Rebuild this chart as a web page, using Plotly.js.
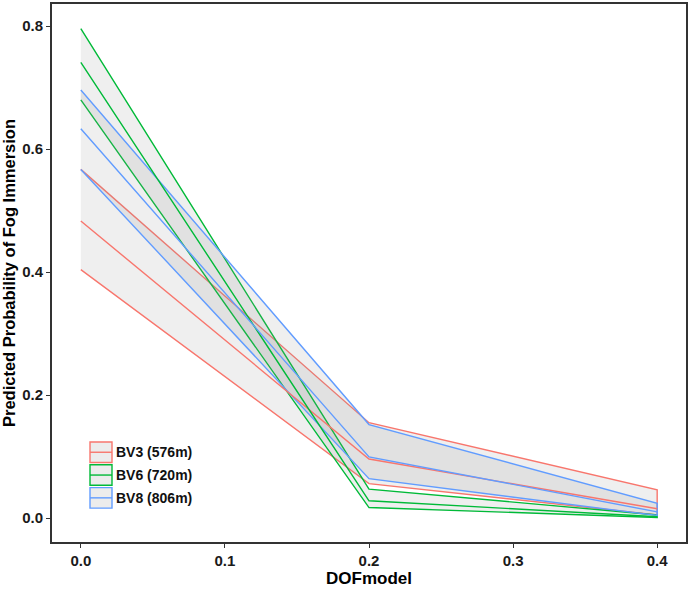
<!DOCTYPE html>
<html>
<head>
<meta charset="utf-8">
<script src="https://cdn.plot.ly/plotly-3.0.1.min.js"></script>
<style>html,body{margin:0;padding:0;background:#fff;}#chart{width:691px;height:590px;}</style>
</head>
<body>
<div id="chart"></div>
<script>
// Data
const dof = [0.0, 0.2, 0.4];
const seriesNames = ["BV3 (576m)", "BV6 (720m)", "BV8 (806m)"];
const colors = ["#F8766D", "#00BA38", "#619CFF"];

const bv3Mean  = [0.483, 0.096, 0.015];
const bv3Lower = [0.404, 0.056, 0.005];
const bv3Upper = [0.567, 0.155, 0.046];

const bv6Mean  = [0.741, 0.028, 0.002];
const bv6Lower = [0.680, 0.017, 0.001];
const bv6Upper = [0.796, 0.047, 0.005];

const bv8Mean  = [0.633, 0.0995, 0.010];
const bv8Lower = [0.567, 0.064, 0.004];
const bv8Upper = [0.696, 0.152, 0.024];

const xTicks = [0, 0.1, 0.2, 0.3, 0.4];
const xTickText = ["0.0", "0.1", "0.2", "0.3", "0.4"];
const yTicks = [0, 0.2, 0.4, 0.6, 0.8];
const yTickText = ["0.0", "0.2", "0.4", "0.6", "0.8"];

const series = [
  {mean: bv3Mean, lower: bv3Lower, upper: bv3Upper},
  {mean: bv6Mean, lower: bv6Lower, upper: bv6Upper},
  {mean: bv8Mean, lower: bv8Lower, upper: bv8Upper}
];

const ribbonFill = 'rgba(150,150,150,0.15)';
const traces = [];
series.forEach((s, i) => {
  traces.push({
    x: dof.concat(dof.slice().reverse()),
    y: s.upper.concat(s.lower.slice().reverse()),
    type: 'scatter', mode: 'lines', fill: 'toself',
    fillcolor: ribbonFill,
    line: {color: colors[i], width: 1.4},
    name: seriesNames[i], hoverinfo: 'skip', showlegend: false
  });
});
series.forEach((s, i) => {
  traces.push({
    x: dof, y: s.mean, type: 'scatter', mode: 'lines',
    line: {color: colors[i], width: 1.4},
    showlegend: false, name: seriesNames[i]
  });
});

// Plot-area geometry (pixels) used to place the hand-built legend
const W = 691, H = 590, mL = 52, mR = 5, mT = 4, mB = 48;
const pw = W - mL - mR, ph = H - mT - mB;
const px = v => (v - mL) / pw;
const py = v => (H - mB - v) / ph;

const fontFam = 'Liberation Sans, Arial, sans-serif';
const shapes = [];
const annotations = [];
const keyX0 = 90, keyX1 = 112, keyTop = 442, keyH = 20.5, keyStep = 22.8;
seriesNames.forEach((nm, i) => {
  const y0 = keyTop + i * keyStep, y1 = y0 + keyH, ym = (y0 + y1) / 2;
  shapes.push({type: 'rect', xref: 'paper', yref: 'paper',
    x0: px(keyX0), x1: px(keyX1), y0: py(y1), y1: py(y0),
    fillcolor: 'rgb(236,236,236)', line: {color: colors[i], width: 1.4}});
  shapes.push({type: 'line', xref: 'paper', yref: 'paper',
    x0: px(keyX0), x1: px(keyX1), y0: py(ym), y1: py(ym),
    line: {color: colors[i], width: 1.4}});
  annotations.push({xref: 'paper', yref: 'paper', x: px(keyX1 + 1.5), y: py(ym),
    xanchor: 'left', yanchor: 'middle', showarrow: false, text: nm,
    font: {family: fontFam, size: 14, color: '#111', weight: 'bold'}});
});

const layout = {
  width: W, height: H,
  margin: {l: mL, r: mR, t: mT, b: mB},
  paper_bgcolor: '#fff', plot_bgcolor: '#fff',
  showlegend: false,
  shapes: shapes, annotations: annotations,
  xaxis: {
    range: [-0.02, 0.42], tickvals: xTicks, ticktext: xTickText,
    showgrid: false, zeroline: false,
    showline: true, mirror: true, linecolor: '#333', linewidth: 2,
    ticks: 'outside', ticklen: 4, tickcolor: '#333', tickwidth: 1,
    tickfont: {family: fontFam, size: 15, color: '#1a1a1a', weight: 'bold'},
    title: {text: 'DOFmodel', standoff: 4, font: {family: fontFam, size: 17, color: '#000', weight: 'bold'}}
  },
  yaxis: {
    range: [-0.039, 0.836], tickvals: yTicks, ticktext: yTickText,
    showgrid: false, zeroline: false,
    showline: true, mirror: true, linecolor: '#333', linewidth: 2,
    ticks: 'outside', ticklen: 4, tickcolor: '#333', tickwidth: 1,
    tickfont: {family: fontFam, size: 15, color: '#1a1a1a', weight: 'bold'},
    title: {text: 'Predicted Probability of Fog Immersion', standoff: 4, font: {family: fontFam, size: 16.5, color: '#000', weight: 'bold'}}
  }
};

Plotly.newPlot('chart', traces, layout, {displayModeBar: false, staticPlot: true});
</script>
</body>
</html>
